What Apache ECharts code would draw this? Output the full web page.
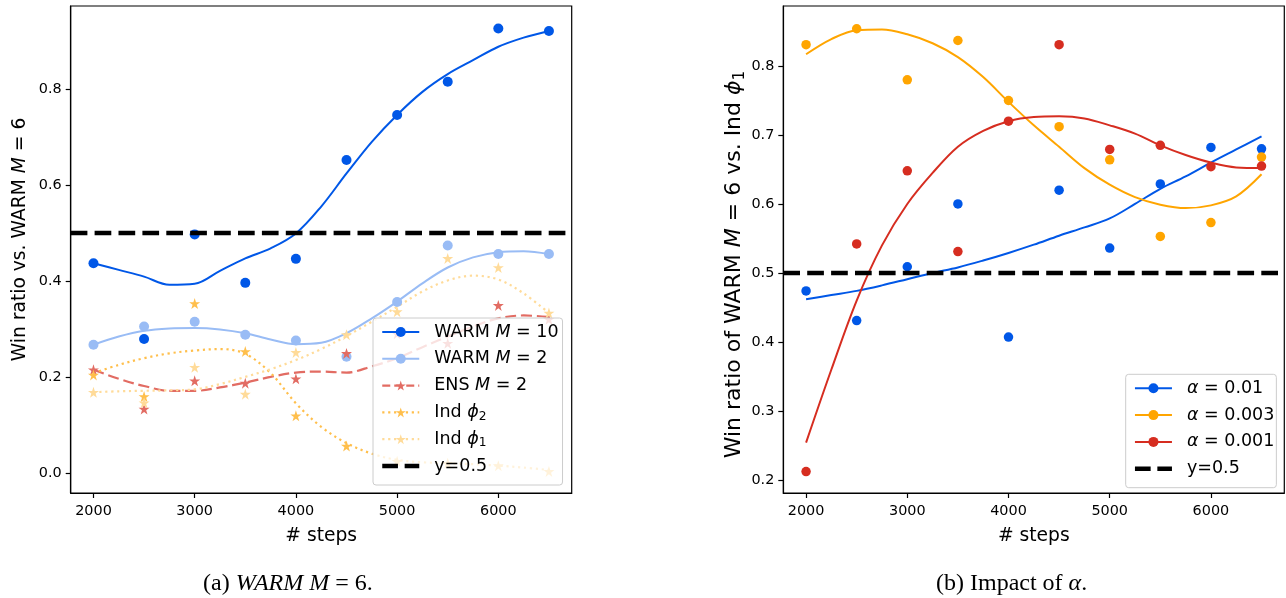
<!DOCTYPE html>
<html><head><meta charset="utf-8">
<script src="https://cdn.jsdelivr.net/npm/echarts@6/dist/echarts.min.js"></script>
<style>html,body{margin:0;padding:0;background:#fff}#c{width:1286px;height:598px}</style>
</head><body><div id="c"></div>
<script>
// ---------- data ----------
const steps = [2000, 2500, 3000, 3500, 4000, 4500, 5000, 5500, 6000, 6500];
const fitSteps = [2000, 2250, 2500, 2750, 3000, 3250, 3500, 3750, 4000, 4250, 4500, 4750, 5000, 5250, 5500, 5750, 6000, 6250, 6500];
const xTicks = [2000, 3000, 4000, 5000, 6000];
const yTicksA = [0.0, 0.2, 0.4, 0.6, 0.8];
const yTicksB = [0.2, 0.3, 0.4, 0.5, 0.6, 0.7, 0.8];
const refY = 0.5;

// (a) WARM M = 6
const warm10 = [0.437, 0.279, 0.497, 0.396, 0.446, 0.652, 0.746, 0.815, 0.926, 0.921];
const warm10Fit = [0.437, 0.423, 0.409, 0.392, 0.394, 0.421, 0.447, 0.468, 0.499, 0.555, 0.624, 0.690, 0.746, 0.794, 0.831, 0.860, 0.888, 0.907, 0.921];
const warm2 = [0.267, 0.305, 0.315, 0.288, 0.276, 0.242, 0.356, 0.474, 0.456, 0.456];
const warm2Fit = [0.267, 0.284, 0.296, 0.301, 0.302, 0.299, 0.291, 0.278, 0.268, 0.271, 0.291, 0.322, 0.357, 0.395, 0.428, 0.449, 0.460, 0.462, 0.456];
const ens2 = [0.215, 0.133, 0.192, 0.187, 0.196, 0.249, 0.290, 0.270, 0.349, 0.320];
const ens2Fit = [0.215, 0.196, 0.181, 0.171, 0.171, 0.178, 0.188, 0.200, 0.209, 0.211, 0.209, 0.222, 0.239, 0.262, 0.284, 0.305, 0.322, 0.328, 0.325];
const indPhi2 = [0.204, 0.159, 0.353, 0.253, 0.119, 0.056, 0.024, 0.020, 0.015, 0.003];
const indPhi2Fit = [0.208, 0.225, 0.239, 0.249, 0.255, 0.258, 0.248, 0.208, 0.145, 0.096, 0.062, 0.040, 0.027, 0.022, 0.020, 0.018, 0.015, 0.011, 0.006];
const indPhi1 = [0.168, 0.146, 0.220, 0.164, 0.251, 0.288, 0.336, 0.447, 0.428, 0.333];
const indPhi1Fit = [0.168, 0.170, 0.171, 0.172, 0.174, 0.185, 0.200, 0.216, 0.235, 0.258, 0.285, 0.315, 0.346, 0.378, 0.401, 0.411, 0.403, 0.374, 0.333];

// (b) Impact of alpha
const alpha01 = [0.474, 0.431, 0.509, 0.600, 0.407, 0.620, 0.536, 0.629, 0.682, 0.680];
const alpha01Fit = [0.462, 0.468, 0.474, 0.482, 0.491, 0.500, 0.508, 0.518, 0.529, 0.541, 0.554, 0.566, 0.579, 0.600, 0.622, 0.640, 0.660, 0.679, 0.698];
const alpha003 = [0.831, 0.854, 0.780, 0.837, 0.750, 0.712, 0.664, 0.553, 0.573, 0.668];
const alpha003Fit = [0.817, 0.839, 0.852, 0.853, 0.846, 0.833, 0.813, 0.784, 0.748, 0.714, 0.683, 0.652, 0.628, 0.610, 0.599, 0.594, 0.598, 0.611, 0.643];
const alpha001 = [0.212, 0.542, 0.648, 0.531, 0.720, 0.831, 0.679, 0.685, 0.654, 0.655];
const alpha001Fit = [0.254, 0.360, 0.460, 0.540, 0.600, 0.645, 0.683, 0.706, 0.720, 0.726, 0.727, 0.724, 0.714, 0.702, 0.685, 0.671, 0.660, 0.653, 0.652];

const legendA = ['WARM M=10', 'WARM M=2', 'ENS M=2', 'Ind phi2', 'Ind phi1', 'y=0.5'];
const legendB = ['alpha=0.01', 'alpha=0.003', 'alpha=0.001', 'y=0.5'];
const richLabels = {
  'WARM M=10': 'WARM {i|M} = 10',
  'WARM M=2': 'WARM {i|M} = 2',
  'ENS M=2': 'ENS {i|M} = 2',
  'Ind phi2': 'Ind {i|ϕ}{sub|2}',
  'Ind phi1': 'Ind {i|ϕ}{sub|1}',
  'y=0.5': 'y=0.5',
  'alpha=0.01': '{i|α} = 0.01',
  'alpha=0.003': '{i|α} = 0.003',
  'alpha=0.001': '{i|α} = 0.001'
};

// ---------- styling ----------
const FONT = 'DejaVu Sans';
const xMin = 1775, xMax = 6725;
const STAR = 'path://M0,-10L2.245,-3.09L9.511,-3.09L3.633,1.18L5.878,8.09L0,3.82L-5.878,8.09L-3.633,1.18L-9.511,-3.09L-2.245,-3.09Z';
const zip = (xs, ys) => xs.map((x, i) => [x, ys[i]]);

function makeRich(fs, lh, fam) {
  fam = fam || FONT;
  return {
    i: {fontStyle: 'italic', fontFamily: fam, fontSize: fs, lineHeight: lh, color: '#000'},
    sub: {fontFamily: fam, fontSize: fs * 0.7, lineHeight: lh * 0.5, verticalAlign: 'bottom', color: '#000'},
    n: {fontFamily: fam, fontSize: fs, lineHeight: lh, color: '#000'}
  };
}

function xAx(gi) {
  return {
    type: 'value', gridIndex: gi, min: xMin, max: xMax,
    name: '# steps', nameLocation: 'middle', nameGap: 34,
    nameTextStyle: {fontFamily: FONT, fontSize: 18.7, color: '#000'},
    axisLine: {show: true, onZero: false, lineStyle: {color: '#000', width: 1.2}},
    axisTick: {show: true, length: 5, lineStyle: {color: '#000', width: 1.2}, customValues: xTicks},
    axisLabel: {fontFamily: FONT, fontSize: 14.4, color: '#000', margin: 11, customValues: xTicks,
      formatter: v => String(v)},
    splitLine: {show: false}
  };
}
function yAx(gi, min, max, ticks, name, fs, gap, pad) {
  return {
    type: 'value', gridIndex: gi, min: min, max: max,
    name: name, nameLocation: 'middle', nameGap: gap,
    nameTextStyle: {fontFamily: FONT, fontSize: fs, color: '#000', lineHeight: fs * 1.18, padding: pad,
      rich: makeRich(fs, fs * 1.18)},
    axisLine: {show: true, onZero: false, lineStyle: {color: '#000', width: 1.2}},
    axisTick: {show: true, length: 5, lineStyle: {color: '#000', width: 1.2}, customValues: ticks},
    axisLabel: {fontFamily: FONT, fontSize: 14.4, color: '#000', margin: 9, customValues: ticks,
      formatter: v => v.toFixed(1)},
    splitLine: {show: false}
  };
}

function fitLine(name, gi, data, color, symbol, lineStyle) {
  return {
    name: name, type: 'line', xAxisIndex: gi, yAxisIndex: gi,
    data: data, smooth: 0.35, symbol: symbol, showSymbol: false, silent: true,
    itemStyle: {color: color}, lineStyle: Object.assign({color: color, width: 2}, lineStyle || {}),
    emphasis: {disabled: true}, z: 2
  };
}
function points(name, gi, data, color, symbol, size) {
  return {
    name: name, type: 'scatter', xAxisIndex: gi, yAxisIndex: gi,
    data: data, symbol: symbol, symbolSize: size, silent: true,
    itemStyle: {color: color, opacity: 1}, emphasis: {disabled: true}, z: 3
  };
}
function refLine(gi) {
  return {
    name: 'y=0.5', type: 'line', xAxisIndex: gi, yAxisIndex: gi,
    data: [[xMin, refY], [xMax, refY]], symbol: 'circle', showSymbol: false, silent: true,
    itemStyle: {color: 'rgba(0,0,0,0)'},
    lineStyle: {color: '#000', width: 4.5, type: [16.7, 7.2]}, z: 4
  };
}

const C10 = '#0057e7', C2 = '#99bcf5', CENS = '#e26c63', CP2 = '#ffbf4c', CP1 = '#ffdb99';
const CB = '#0057e7', CO = '#ffa500', CR = '#d62d20';
const dashed = {type: [11, 4.8], width: 2.2};
const dotted = {type: [2.2, 3.7], width: 2.2, cap: 'butt'};

const series = [
  fitLine('WARM M=10', 0, zip(fitSteps, warm10Fit), C10, 'circle'),
  points('WARM M=10', 0, zip(steps, warm10), C10, 'circle', 10),
  fitLine('WARM M=2', 0, zip(fitSteps, warm2Fit), C2, 'circle'),
  points('WARM M=2', 0, zip(steps, warm2), C2, 'circle', 10),
  fitLine('ENS M=2', 0, zip(fitSteps, ens2Fit), CENS, STAR, dashed),
  points('ENS M=2', 0, zip(steps, ens2), CENS, STAR, 11),
  fitLine('Ind phi2', 0, zip(fitSteps, indPhi2Fit), CP2, STAR, dotted),
  points('Ind phi2', 0, zip(steps, indPhi2), CP2, STAR, 11),
  fitLine('Ind phi1', 0, zip(fitSteps, indPhi1Fit), CP1, STAR, dotted),
  points('Ind phi1', 0, zip(steps, indPhi1), CP1, STAR, 11),
  refLine(0),
  fitLine('alpha=0.01', 1, zip(fitSteps, alpha01Fit), CB, 'circle'),
  points('alpha=0.01', 1, zip(steps, alpha01), CB, 'circle', 9.5),
  fitLine('alpha=0.003', 1, zip(fitSteps, alpha003Fit), CO, 'circle'),
  points('alpha=0.003', 1, zip(steps, alpha003), CO, 'circle', 9.5),
  fitLine('alpha=0.001', 1, zip(fitSteps, alpha001Fit), CR, 'circle'),
  points('alpha=0.001', 1, zip(steps, alpha001), CR, 'circle', 9.5),
  refLine(1)
];

function legendItems(names) {
  return names.map(n => {
    if (n === 'y=0.5') return {name: n, itemStyle: {opacity: 0}, lineStyle: {width: 4.5, type: [15.7, 6.7], color: '#000'}};
    if (n === 'ENS M=2') return {name: n, lineStyle: {width: 2.2, type: [8, 4]}};
    if (n.indexOf('phi') >= 0) return {name: n, lineStyle: {width: 2.2, type: [2.2, 3.7]}};
    return {name: n, lineStyle: {width: 2}};
  });
}
function legend(names, left, top, padRight) {
  return {
    data: legendItems(names), orient: 'vertical', left: left, top: top,
    padding: [4, padRight, 9, 7], itemWidth: 37, itemHeight: 12.5, itemGap: 6.8,
    selectedMode: false,
    backgroundColor: 'rgba(255,255,255,0.8)', borderColor: '#cccccc', borderWidth: 1, borderRadius: 3,
    textStyle: {fontFamily: FONT, fontSize: 17.5, color: '#000', lineHeight: 20, padding: [0, 0, 0, 10],
      rich: makeRich(17.5, 20)},
    formatter: n => richLabels[n] || n
  };
}

const captionRich = {
  i: {fontFamily: 'Liberation Serif', fontStyle: 'italic', fontSize: 24, color: '#000'}
};
const capStyle = {fontFamily: 'Liberation Serif', fontWeight: 'normal', fontSize: 24, color: '#000', rich: captionRich};

const option = {
  animation: false,
  backgroundColor: '#fff',
  grid: [
    {left: 70.7, top: 6, width: 501, height: 487, show: true, borderColor: '#000', borderWidth: 1.2, backgroundColor: 'transparent'},
    {left: 783.3, top: 6, width: 501, height: 487, show: true, borderColor: '#000', borderWidth: 1.2, backgroundColor: 'transparent'}
  ],
  xAxis: [xAx(0), xAx(1)],
  yAxis: [
    yAx(0, -0.042, 0.973, yTicksA, 'Win ratio vs. WARM {i|M} = 6', 18.7, 40, [0, 0, 0, 20]),
    yAx(1, 0.181, 0.887, yTicksB, 'Win ratio of WARM {i|M} = 6 vs. Ind {i|ϕ}{sub|1}', 22, 36, [0, 30, 0, 0])
  ],
  legend: [legend(legendA, 373, 318, 4), legend(legendB, 1125.7, 374.3, 2)],
  title: [
    {text: '(a) {i|WARM} {i|M} = 6.', left: 198, top: 567, textStyle: capStyle},
    {text: '(b) Impact of {i|α}.', left: 931, top: 567, textStyle: capStyle}
  ],
  series: series
};

const chart = echarts.init(document.getElementById('c'), null, {renderer: 'canvas'});
chart.setOption(option);
</script>
</body></html>
